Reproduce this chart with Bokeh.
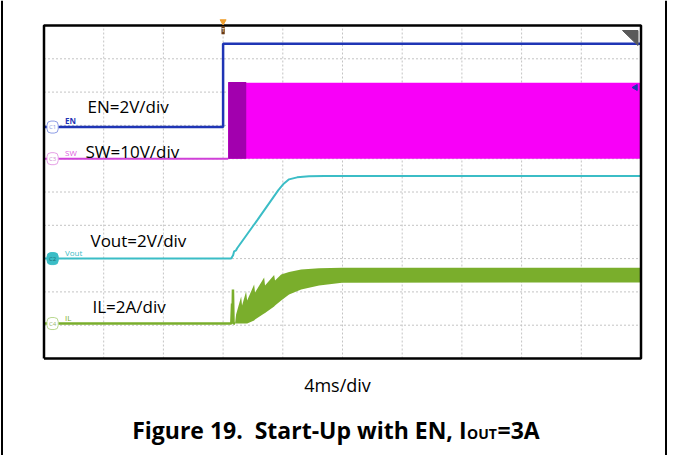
from bokeh.plotting import figure
from bokeh.models import Range1d, Label
from bokeh.embed import file_html
from bokeh.resources import INLINE

# ---------------- scope settings ----------------
ms_per_div = 4.0
t_left, t_right = -12.0, 28.0          # ms across the 10 horizontal divisions
n_vdiv = 10
grid_t = [-8.0, -4.0, 0.0, 4.0, 8.0, 12.0, 16.0, 20.0, 24.0]
grid_d = [1, 2, 3, 4, 5, 6, 7, 8, 9]

# channel scale (unit/div) and position (div from bottom)
en_scale, en_offset = 2.0, 6.95
sw_scale, sw_offset = 10.0, 6.0
vout_scale, vout_offset = 2.0, 3.0
il_scale, il_offset = 2.0, 1.05

# ---------------- traces (ms, V / A) ----------------
en_t = [-12.0, 0.0, 0.0, 28.0]
en_v = [0.0, 0.0, 5.0, 5.0]

sw_low_t = [-12.0, 0.34]
sw_low_v = [0.0, 0.0]
sw_band_t = [0.34, 28.0]
sw_band_hi = [22.8, 22.8]
sw_soft_t = [0.34, 1.55]
sw_soft_hi = [23.0, 23.0]

vout_t = [-12.0, 0.54, 0.67, 0.74, 0.87, 0.94, 2.28, 3.69, 4.02, 4.42, 4.96, 5.76, 6.77, 28.0]
vout_v = [0.0, 0.0, 0.20, 0.44, 0.50, 0.62, 2.30, 4.10, 4.46, 4.76, 4.88, 4.94, 4.96, 4.96]

il_base_t = [-12.0, 0.55, 0.60, 0.63, 0.66, 0.70, 0.80]
il_base_a = [0.0, 0.0, 1.2, 0.2, 2.05, 0.0, 0.0]
il_band_t = [0.80, 0.87, 1.21, 1.27, 1.54, 1.61, 2.08, 2.14, 2.75, 2.81, 3.42, 3.48,
             3.89, 4.42, 5.23, 6.43, 7.97, 28.0]
il_band_hi = [0.0, 0.54, 1.62, 1.08, 1.92, 1.38, 2.34, 1.86, 2.76, 2.28, 2.91, 2.58,
              2.94, 3.09, 3.24, 3.32, 3.35, 3.35]
il_band_lo = [0.0, 0.0, 0.0, 0.0, 0.0, 0.0, 0.18, 0.24, 0.60, 0.63, 1.02, 1.08,
              1.38, 1.74, 2.04, 2.28, 2.45, 2.47]

# ---------------- layout ----------------
W, H = 674, 455
fx0, fx1 = 43.5, 640.5      # scope frame in canvas px
fy0, fy1 = 25.0, 358.0
ms_px = (t_right - t_left) / (fx1 - fx0)
div_px = n_vdiv / (fy1 - fy0)
x_start = t_left - fx0 * ms_px
x_end = t_right + (W - fx1) * ms_px
y_top = n_vdiv + fy0 * div_px
y_bot = 0 - (H - fy1) * div_px


def sx(px):
    return x_start + px * ms_px


def sy(py):
    return y_top - py * div_px


def to_div(vals, scale, off):
    return [off + v / scale for v in vals]


p = figure(width=W, height=H, x_range=Range1d(x_start, x_end), y_range=Range1d(y_bot, y_top),
           output_backend="svg", toolbar_location=None, x_axis_type=None, y_axis_type=None,
           min_border=0, title=None)
p.outline_line_color = None
p.background_fill_color = "white"
p.border_fill_color = "white"

# outer table lines
p.segment(x0=[sx(1.5), sx(665.5)], y0=[y_bot, y_bot], x1=[sx(1.5), sx(665.5)], y1=[y_top, y_top],
          line_color="black", line_width=2)

# grid
p.segment(x0=grid_t, y0=[0] * len(grid_t), x1=grid_t, y1=[n_vdiv] * len(grid_t),
          line_color="#c4c4c4", line_width=1, line_dash="2 2")
p.segment(x0=[t_left] * len(grid_d), y0=grid_d, x1=[t_right] * len(grid_d), y1=grid_d,
          line_color="#c4c4c4", line_width=1, line_dash="2 2")

# SW
p.varea(x=sw_band_t, y1=to_div([0, 0], sw_scale, sw_offset), y2=to_div(sw_band_hi, sw_scale, sw_offset),
        fill_color="#f800f8")
p.varea(x=sw_soft_t, y1=to_div([0, 0], sw_scale, sw_offset), y2=to_div(sw_soft_hi, sw_scale, sw_offset),
        fill_color="#a200ae")
p.line(sw_low_t, to_div(sw_low_v, sw_scale, sw_offset), line_color="#d040d8", line_width=2)

# EN
p.line(en_t, to_div(en_v, en_scale, en_offset), line_color="#1f35b5", line_width=2.5)

# Vout
p.line(vout_t, to_div(vout_v, vout_scale, vout_offset), line_color="#3bbdc6", line_width=2)

# IL
p.line(il_base_t, to_div(il_base_a, il_scale, il_offset), line_color="#7aae2c", line_width=2.5)
p.varea(x=il_band_t, y1=to_div(il_band_lo, il_scale, il_offset), y2=to_div(il_band_hi, il_scale, il_offset),
        fill_color="#7aae2c")

# frame
p.line([t_left, t_right, t_right, t_left, t_left], [0, 0, n_vdiv, n_vdiv, 0],
       line_color="black", line_width=2.5)

# scope markers
p.patch([sx(622), sx(637.5), sx(637.5)], [sy(30), sy(30), sy(45)], fill_color="#5a5a5a", line_color="#5a5a5a")
p.scatter([0.0], [n_vdiv + 0.12], marker="inverted_triangle", size=6, color="#f0a030")
p.add_layout(Label(x=0.0, y=n_vdiv - 0.02, text="T", text_font_size="6px", text_color="white",
                   text_align="center", text_baseline="top", background_fill_color="#6b3a12",
                   text_font="Open Sans"))
p.scatter([sx(635)], [sy(87)], marker="triangle", angle=1.5708, size=6, color="#1f35b5")

# channel tags
tags = [("C1", en_offset, "#8f9ee6", "white", "#8f9ee6", "EN", "#1f35b5"),
        ("C3", sw_offset, "#e6a0e6", "white", "#d090d0", "SW", "#e060e0"),
        ("C2", vout_offset, "#3bbdc6", "#3bbdc6", "#1d6f75", "Vout", "#3bbdc6"),
        ("C4", il_offset, "#b9d890", "white", "#98b870", "IL", "#7aae2c")]
for name, off, bc, fc, tc, lab, lc in tags:
    p.add_layout(Label(x=t_left, y=off, text=name, text_font_size="6px", text_color=tc,
                       text_align="left", text_baseline="middle", x_offset=3,
                       background_fill_color=fc, border_line_color=bc, border_radius=4,
                       padding=2, text_font="Open Sans"))
    p.add_layout(Label(x=t_left, y=off, text=lab, text_font_size="8px", text_color=lc,
                       text_align="left", text_baseline="bottom", x_offset=21, y_offset=1,
                       text_font="Open Sans", text_font_style="bold" if lab == "EN" else "normal"))

# channel annotations
notes = [("EN=2V/div", 87, 106), ("SW=10V/div", 85, 151), ("Vout=2V/div", 90, 240), ("IL=2A/div", 92, 306)]
for txt, lx, ly in notes:
    p.add_layout(Label(x=sx(lx), y=sy(ly), text=txt, text_font="Open Sans", text_font_size="17px",
                       text_color="black", text_align="left", text_baseline="middle"))

# time base and caption
p.add_layout(Label(x=sx(337), y=sy(384), text="4ms/div", text_font="Open Sans", text_font_size="18px",
                   text_color="black", text_align="center", text_baseline="middle"))
cap_anchor = 466
p.add_layout(Label(x=sx(cap_anchor), y=sy(429), text="Figure 19.\u00a0\u00a0Start-Up with EN, I",
                   text_font="Open Sans", text_font_size="23px", text_font_style="bold", text_color="black",
                   text_align="right", text_baseline="middle"))
p.add_layout(Label(x=sx(cap_anchor + 0.5), y=sy(433), text="OUT", text_font="Open Sans",
                   text_font_size="14px", text_font_style="bold", text_color="black",
                   text_align="left", text_baseline="middle"))
p.add_layout(Label(x=sx(cap_anchor + 31), y=sy(429), text="=3A", text_font="Open Sans",
                   text_font_size="23px", text_font_style="bold", text_color="black",
                   text_align="left", text_baseline="middle"))

open("out.html", "w").write(file_html(p, INLINE))
